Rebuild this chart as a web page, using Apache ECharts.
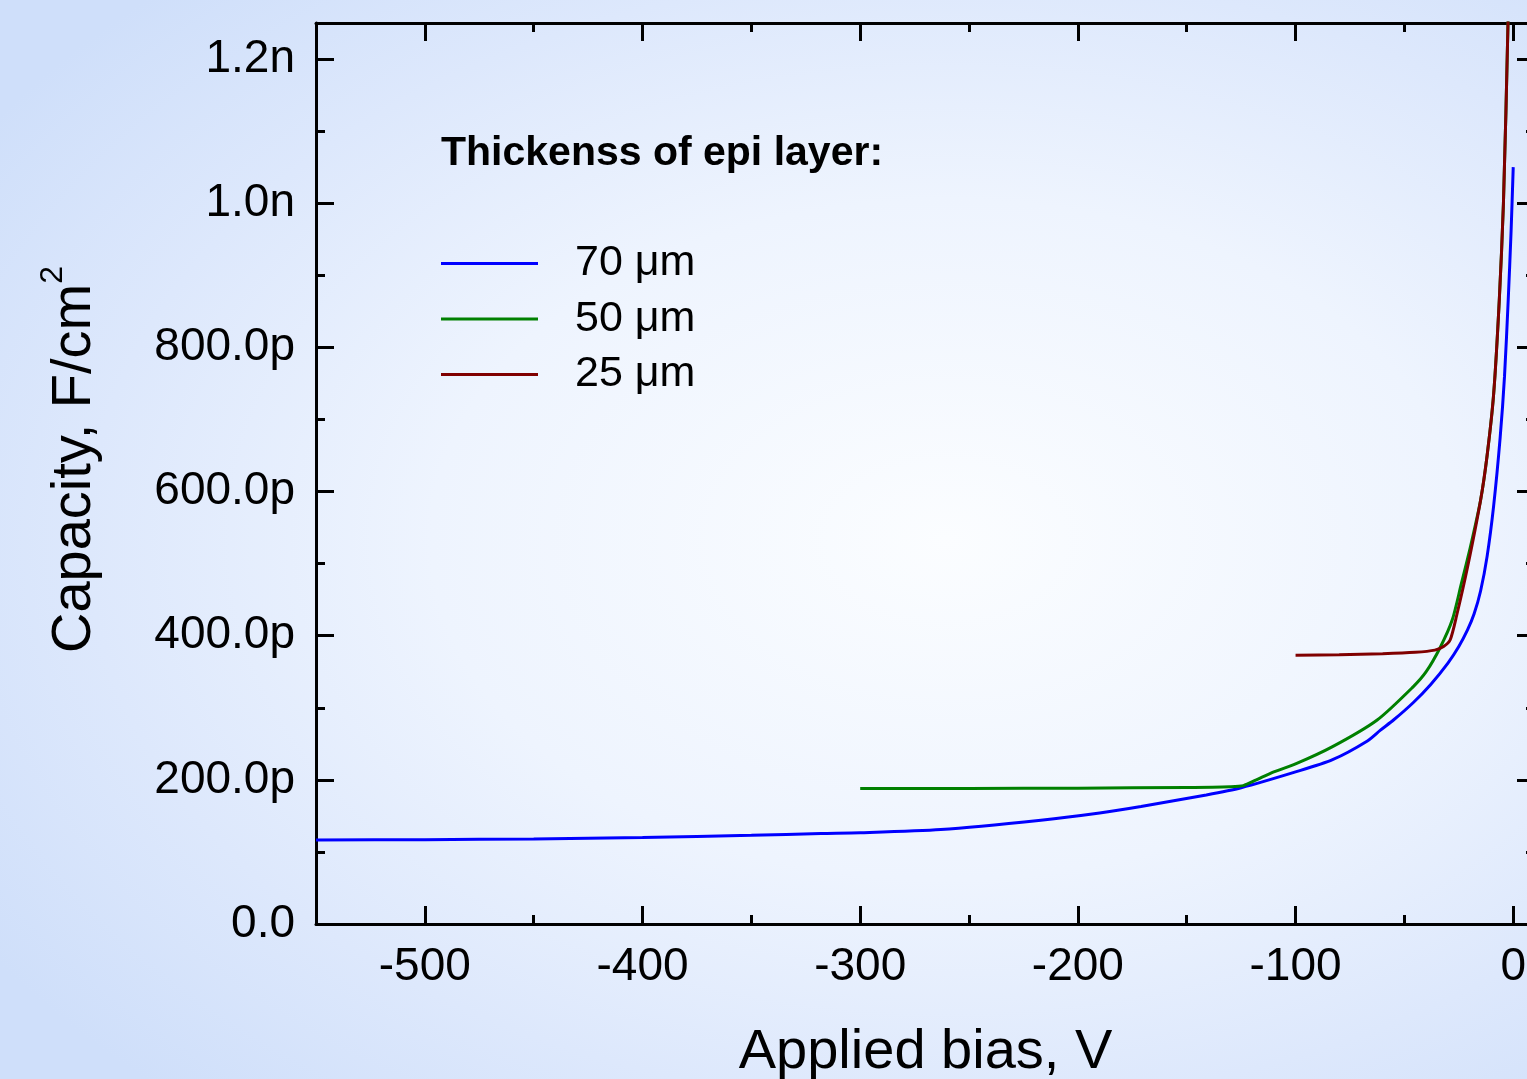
<!DOCTYPE html>
<html>
<head>
<meta charset="utf-8">
<script src="https://cdn.jsdelivr.net/npm/echarts@6/dist/echarts.min.js"></script>
<style>
html,body{margin:0;padding:0;}
#chart{width:1527px;height:1079px;background:radial-gradient(ellipse 75% 70% at 62% 50%, #fbfdff 0%, #eef4fe 45%, #dde8fc 75%, #cfdffa 100%);}
</style>
</head>
<body>
<div id="chart"></div>
<script>
// Applied bias (V) and capacity (pF/cm^2)
const bias70 = [-550,-500,-450,-400,-350,-318,-300,-263,-217,-190,-171,-141,-125,-100,-83,-67,-61,-55,-46,-38,-30,-25,-21,-18,-15,-12,-9,-6,-4,-2.3,-1,0];
const cap70  = [116.5,117,118,120,123,125.5,126.5,131,144,154,163,179,189,211,228,254,269,283,307,332,362,385,408,430,462,510,580,675,760,866,960,1050];

const bias50 = [-300,-250,-200,-150,-130,-124,-118,-110,-100,-83,-62.5,-46,-40,-33.5,-28,-24,-20,-15,-12,-9,-6.4,-4.5,-2.4,-1];
const cap50  = [188,188,188.5,189.5,190.5,192,200,211,222,246,283,329,350,384,422,470,519,588,650,735,866,1000,1250,1500];

const bias25 = [-100,-80,-60,-45,-36,-32,-29,-26,-21,-15,-12,-9,-6.4,-4.5,-2.4,-1];
const cap25  = [373,373.5,375,377,380,385,394,428,495,588,650,735,866,1000,1250,1500];

const seriesNames = ['70 \u03bcm', '50 \u03bcm', '25 \u03bcm'];
const legendTitle = 'Thickenss of epi layer:';

const xMajorTicks = [-500,-400,-300,-200,-100,0];
const xMinorTicks = [-450,-350,-250,-150,-50];
const yMajorTicks = [0,200,400,600,800,1000,1200];
const yMinorTicks = [100,300,500,700,900,1100];

const FONT = "'Liberation Sans', Arial, sans-serif";
const pair = (xs, ys) => xs.map((x, i) => [x, ys[i]]);

function yFmt(v) {
  if (v === 0) return '0.0';
  if (v < 1000) return v.toFixed(1) + 'p';
  return (v / 1000).toFixed(1) + 'n';
}

const lineW = 3;
function xAxisDef(pos, ticks, len, withLine, withLabel) {
  return {
    type: 'value', position: pos, min: -550, max: 10,
    axisLine: { show: withLine, onZero: false, lineStyle: { color: '#000', width: lineW } },
    axisTick: { show: true, inside: true, length: len, customValues: ticks, lineStyle: { color: '#000', width: lineW } },
    axisLabel: withLabel ? { show: true, customValues: xMajorTicks, fontSize: 46, color: '#000', fontFamily: FONT, margin: 20 } : { show: false },
    splitLine: { show: false }
  };
}
function yAxisDef(pos, ticks, len, withLine, withLabel) {
  return {
    type: 'value', position: pos, min: 0, max: 1250,
    axisLine: { show: withLine, onZero: false, lineStyle: { color: '#000', width: lineW } },
    axisTick: { show: true, inside: true, length: len, customValues: ticks, lineStyle: { color: '#000', width: lineW } },
    axisLabel: withLabel ? { show: true, customValues: yMajorTicks, formatter: yFmt, fontSize: 46, color: '#000', fontFamily: FONT, margin: 21 } : { show: false },
    splitLine: { show: false }
  };
}

const xb = xAxisDef('bottom', xMajorTicks, 18, true, true);
xb.name = 'Applied bias, V';
xb.nameLocation = 'middle';
xb.nameGap = 101;
xb.nameTextStyle = { fontSize: 56, color: '#000', fontFamily: FONT };

const yl = yAxisDef('left', yMajorTicks, 18, true, true);
yl.name = '{a|Capacity, F/cm}{s|2}';
yl.nameLocation = 'middle';
yl.nameGap = 203;
yl.nameTextStyle = {
  color: '#000', fontFamily: FONT, padding: [0, 0, 0, 28],
  rich: {
    a: { fontSize: 56, lineHeight: 76, verticalAlign: 'middle', color: '#000', fontFamily: FONT },
    s: { fontSize: 32, lineHeight: 32, verticalAlign: 'top', color: '#000', fontFamily: FONT }
  }
};

const colors = ['#0000ff', '#008000', '#800000'];
const datasets = [pair(bias70, cap70), pair(bias50, cap50), pair(bias25, cap25)];

const chart = echarts.init(document.getElementById('chart'), null, { renderer: 'canvas' });
chart.setOption({
  backgroundColor: 'transparent',
  animation: false,
  textStyle: { fontFamily: FONT },
  title: {
    text: legendTitle, left: 441, top: 133, padding: 0,
    textStyle: { fontSize: 41, fontWeight: 'bold', color: '#000', fontFamily: FONT }
  },
  legend: {
    orient: 'vertical', left: 441, top: 242, padding: 0,
    icon: 'rect', itemWidth: 97, itemHeight: 3, itemGap: 12.5,
    selectedMode: false,
    data: seriesNames,
    textStyle: { fontSize: 43, lineHeight: 43, color: '#000', fontFamily: FONT, padding: [0, 0, 0, 32] }
  },
  grid: { left: 316, right: -8, top: 23, bottom: 155, containLabel: false, outerBoundsMode: 'none' },
  xAxis: [
    xb,
    xAxisDef('bottom', xMinorTicks, 9, false, false),
    xAxisDef('top', xMajorTicks, 18, true, false),
    xAxisDef('top', xMinorTicks, 9, false, false)
  ],
  yAxis: [
    yl,
    yAxisDef('left', yMinorTicks, 9, false, false),
    yAxisDef('right', yMajorTicks, 18, true, false),
    yAxisDef('right', yMinorTicks, 9, false, false)
  ],
  series: seriesNames.map((name, i) => ({
    name: name, type: 'line', xAxisIndex: 0, yAxisIndex: 0,
    data: datasets[i], showSymbol: false, symbol: 'none',
    smooth: 0.25, clip: true,
    lineStyle: { color: colors[i], width: 3 },
    itemStyle: { color: colors[i] }
  }))
});
</script>
</body>
</html>
